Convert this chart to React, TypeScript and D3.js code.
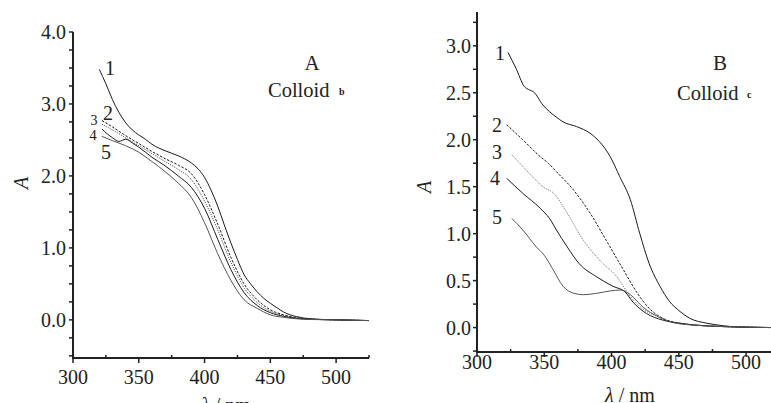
import React from "react";
import * as d3 from "d3";

// ---------- Panel A (Colloid b) ----------
const a1Wave = [320,325,330,335,340,345,350,355,360,370,380,390,395,400,405,410,415,420,425,430,435,440,445,450,455,460,465,470,480,500,525];
const a1Abs = [3.48,3.28,3.06,2.88,2.74,2.64,2.57,2.51,2.44,2.35,2.28,2.18,2.10,1.98,1.80,1.58,1.32,1.07,0.84,0.63,0.50,0.39,0.30,0.23,0.17,0.11,0.07,0.045,0.015,0.0,-0.01];
const aWave = [322,330,340,350,360,370,380,390,400,410,420,430,440,450,460,470,480,500,525];
const a2Abs = [2.77,2.68,2.56,2.45,2.34,2.24,2.15,2.03,1.74,1.33,0.87,0.50,0.28,0.14,0.07,0.03,0.012,0.0,-0.01];
const a3Abs = [2.72,2.64,2.53,2.42,2.31,2.20,2.09,1.95,1.65,1.25,0.80,0.45,0.24,0.12,0.06,0.025,0.01,0.0,-0.01];
const a4Wave = [322,330,335,340,345,350,360,370,380,390,400,410,420,430,440,450,460,470,480,500,525];
const a4Abs = [2.65,2.53,2.48,2.51,2.46,2.40,2.26,2.14,2.00,1.84,1.55,1.12,0.70,0.38,0.20,0.10,0.05,0.02,0.008,0.0,-0.01];
const a5Abs = [2.55,2.49,2.42,2.33,2.20,2.06,1.90,1.70,1.35,0.92,0.55,0.28,0.16,0.07,0.035,0.015,0.005,0.0,-0.01];

// ---------- Panel B (Colloid c) ----------
const b1Wave = [323,329,335,339,342,349,359,364,374,384,391,399,406,414,421,428,436,443,451,458,471,483,495,520];
const b1Abs = [2.93,2.76,2.57,2.53,2.51,2.37,2.24,2.19,2.14,2.07,1.98,1.82,1.61,1.36,1.00,0.68,0.44,0.28,0.17,0.10,0.046,0.02,0.005,0.0];
const b2Wave = [322,334,347,353,359,372,384,396,409,419,429,438,451,471,500,520];
const b2Abs = [2.16,2.00,1.82,1.75,1.66,1.46,1.22,0.93,0.61,0.37,0.19,0.10,0.046,0.018,0.005,0.0];
const b3Wave = [326,339,349,357,367,379,391,404,414,424,434,446,458,480,500,520];
const b3Abs = [1.84,1.64,1.50,1.43,1.22,0.93,0.72,0.54,0.33,0.19,0.12,0.053,0.03,0.012,0.005,0.0];
const b4Wave = [322,334,347,354,359,367,376,389,401,410,416,426,438,451,471,500,520];
const b4Abs = [1.59,1.43,1.27,1.16,1.04,0.86,0.68,0.54,0.44,0.38,0.27,0.15,0.08,0.046,0.018,0.005,0.0];
const b5Wave = [326,334,344,350,356,364,372,379,389,399,407,414,424,434,446,458,480,500,520];
const b5Abs = [1.16,1.04,0.86,0.77,0.63,0.44,0.365,0.35,0.365,0.39,0.40,0.35,0.21,0.12,0.053,0.03,0.012,0.005,0.0];

const xTicks = [300, 350, 400, 450, 500];
const yTicksA = [0, 1, 2, 3, 4];
const yTicksB = [0, 0.5, 1, 1.5, 2, 2.5, 3];

const FONT = "Liberation Serif, Times New Roman, DejaVu Serif, serif";
const INK = "#222";
const FS = 20;

type Series = { wave: number[]; abs: number[]; dash?: string; stroke?: string };

function Panel(props: {
  x: d3.ScaleLinear<number, number>;
  y: d3.ScaleLinear<number, number>;
  series: Series[];
  yTicks: number[];
  yMinorStep: number;
  xMax: number;
  yLabelX: number;
  xLabelBaseline: number;
  xTitleY: number;
}) {
  const { x, y, series, yTicks, yMinorStep, xMax, yLabelX, xLabelBaseline, xTitleY } = props;
  const [x0, x1] = x.range();
  const [yb, yt] = y.range();
  const [d0, d1] = y.domain();
  const minorY: number[] = [];
  for (let v = Math.ceil(d0 / yMinorStep) * yMinorStep; v <= d1 + 1e-9; v += yMinorStep) minorY.push(+v.toFixed(3));
  const minorX: number[] = [];
  for (let v = 300; v <= xMax + 1e-9; v += 25) minorX.push(v);
  const line = d3
    .line<[number, number]>()
    .x((d) => x(d[0]))
    .y((d) => y(d[1]))
    .curve(d3.curveMonotoneX);
  return (
    <g>
      {series.map((s, i) => (
        <path
          key={i}
          d={line(s.wave.map((w, j) => [w, s.abs[j]] as [number, number])) || ""}
          fill="none"
          stroke={s.stroke || "#1a1a1a"}
          strokeWidth={1}
          strokeDasharray={s.dash}
        />
      ))}
      <line x1={x0} x2={x0} y1={yt} y2={yb + 1} stroke={INK} strokeWidth={2} />
      <line x1={x0 - 1} x2={x1} y1={yb} y2={yb} stroke={INK} strokeWidth={2} />
      {minorY.map((v) => (
        <line key={"my" + v} x1={x0 - 4} x2={x0} y1={y(v)} y2={y(v)} stroke={INK} strokeWidth={1.5} />
      ))}
      {minorX.map((v) => (
        <line
          key={"mx" + v}
          x1={x(v)}
          x2={x(v)}
          y1={yb}
          y2={v % 50 === 0 ? yb + 5 : yb - 3}
          stroke={INK}
          strokeWidth={1.5}
        />
      ))}
      {yTicks.map((v) => (
        <text key={"yt" + v} x={yLabelX} y={y(v) + 7} textAnchor="end" fontFamily={FONT} fontSize={FS} fill={INK}>
          {v.toFixed(1)}
        </text>
      ))}
      {xTicks.map((v) => (
        <text key={"xt" + v} x={x(v)} y={xLabelBaseline} textAnchor="middle" fontFamily={FONT} fontSize={FS} fill={INK}>
          {v}
        </text>
      ))}
      <text x={(x0 + x1) / 2 + 5} y={xTitleY} textAnchor="middle" fontFamily={FONT} fontSize={FS} fill={INK}>
        <tspan fontStyle="italic">λ</tspan> / nm
      </text>
    </g>
  );
}

export default function App() {
  const xA = d3.scaleLinear().domain([300, 525]).range([73, 369]);
  const yA = d3.scaleLinear().domain([-0.53, 4.0]).range([358, 32]);
  const xB = d3.scaleLinear().domain([300, 520]).range([477, 773]);
  const yB = d3.scaleLinear().domain([-0.26, 3.36]).range([352, 12]);

  const seriesA: Series[] = [
    { wave: a1Wave, abs: a1Abs },
    { wave: aWave, abs: a2Abs, dash: "2.5,1.5" },
    { wave: aWave, abs: a3Abs, dash: "1,1.2", stroke: "#444" },
    { wave: a4Wave, abs: a4Abs },
    { wave: aWave, abs: a5Abs, stroke: "#555" },
  ];
  const seriesB: Series[] = [
    { wave: b1Wave, abs: b1Abs },
    { wave: b2Wave, abs: b2Abs, dash: "2.5,1.5" },
    { wave: b3Wave, abs: b3Abs, dash: "1,1.2", stroke: "#666" },
    { wave: b4Wave, abs: b4Abs },
    { wave: b5Wave, abs: b5Abs, stroke: "#555" },
  ];

  const txt = { fontFamily: FONT, fill: INK } as const;

  return (
    <svg width={771} height={403} style={{ position: "absolute", left: 0, top: 0, background: "#fff" }}>
      <rect width={771} height={403} fill="#fff" />
      <Panel x={xA} y={yA} series={seriesA} yTicks={yTicksA} yMinorStep={0.25} xMax={525} yLabelX={66} xLabelBaseline={384} xTitleY={412} />
      <Panel x={xB} y={yB} series={seriesB} yTicks={yTicksB} yMinorStep={0.25} xMax={520} yLabelX={471} xLabelBaseline={369} xTitleY={402} />

      <text transform="translate(28,183) rotate(-90)" textAnchor="middle" fontStyle="italic" fontSize={FS} {...txt}>A</text>
      <text transform="translate(431,187) rotate(-90)" textAnchor="middle" fontStyle="italic" fontSize={FS} {...txt}>A</text>

      <text x={312} y={70} textAnchor="middle" fontSize={21} {...txt}>A</text>
      <text x={268} y={97} fontSize={20.5} {...txt}>Colloid</text>
      <text x={339} y={95} fontSize={10} fontWeight="bold" {...txt}>b</text>
      <text x={110} y={75} textAnchor="middle" fontSize={FS} {...txt}>1</text>
      <text x={108} y={120} textAnchor="middle" fontSize={FS} {...txt}>2</text>
      <text x={94} y={125} textAnchor="middle" fontSize={14} {...txt}>3</text>
      <text x={93} y={140} textAnchor="middle" fontSize={15} {...txt}>4</text>
      <text x={106} y={159} textAnchor="middle" fontSize={FS} {...txt}>5</text>

      <text x={720} y={70} textAnchor="middle" fontSize={21} {...txt}>B</text>
      <text x={677} y={100} fontSize={20.5} {...txt}>Colloid</text>
      <text x={747} y={98} fontSize={10} fontWeight="bold" {...txt}>c</text>
      <text x={500} y={60} textAnchor="middle" fontSize={FS} {...txt}>1</text>
      <text x={497} y={132} textAnchor="middle" fontSize={FS} {...txt}>2</text>
      <text x={497} y={159} textAnchor="middle" fontSize={FS} {...txt}>3</text>
      <text x={495} y={185} textAnchor="middle" fontSize={FS} {...txt}>4</text>
      <text x={497} y={224} textAnchor="middle" fontSize={FS} {...txt}>5</text>
    </svg>
  );
}
